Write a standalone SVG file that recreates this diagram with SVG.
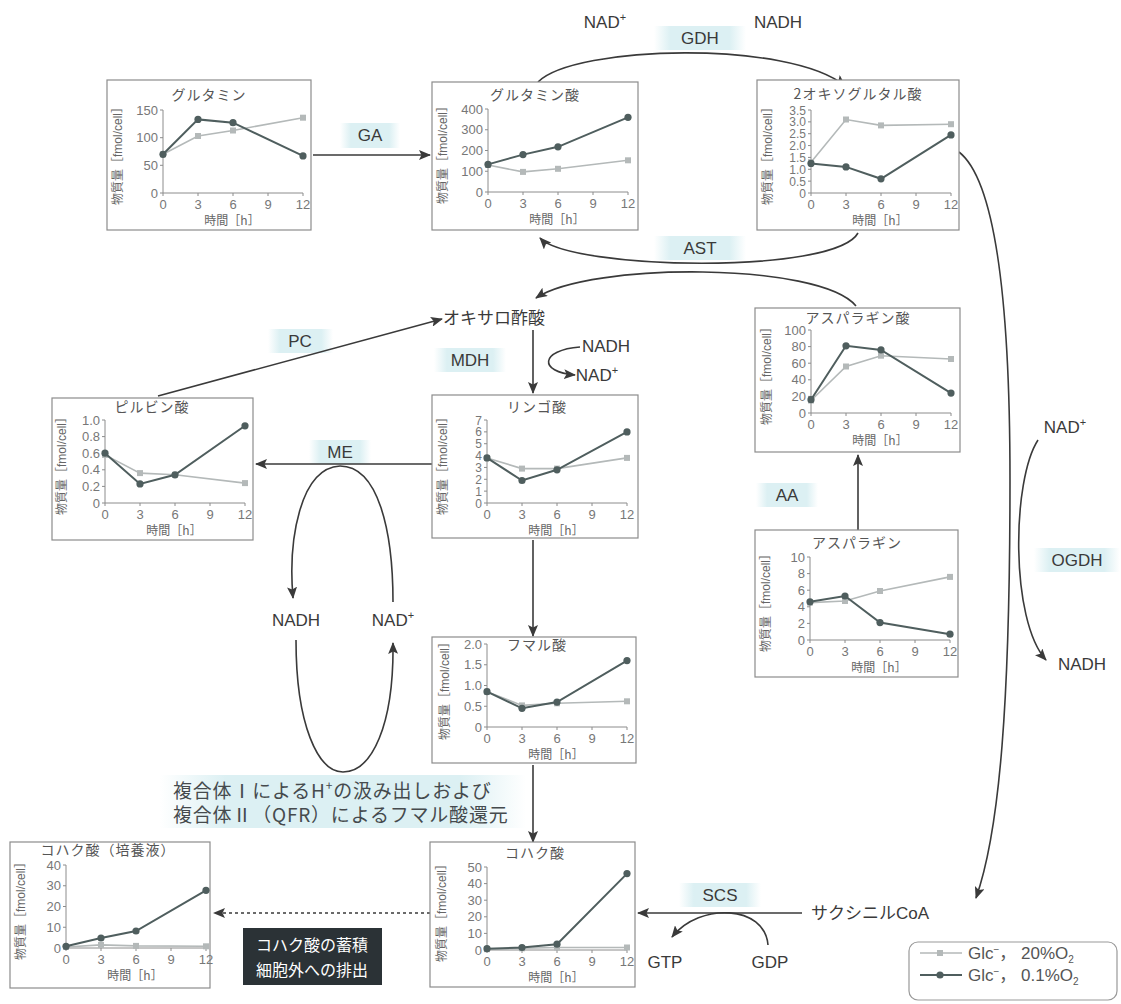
<svg xmlns="http://www.w3.org/2000/svg" xmlns:xlink="http://www.w3.org/1999/xlink" width="1121" height="1004" viewBox="0 0 1121 1004">
<defs>
<style>
.box{fill:#fff;stroke:#8c8c8c;stroke-width:1.2}
.ax{fill:none;stroke:#8c8c8c;stroke-width:1}
.tt{font-family:'Noto Sans CJK JP',sans-serif;font-size:14px;fill:#555;text-anchor:middle;letter-spacing:1px}
.yl{font-family:'Liberation Sans','Noto Sans CJK JP',sans-serif;font-size:12px;fill:#666;text-anchor:middle}
.yt{font-family:'Liberation Sans',sans-serif;font-size:13px;fill:#777;text-anchor:end}
.ys{font-size:12px}
.xt{font-family:'Liberation Sans',sans-serif;font-size:13px;fill:#777;text-anchor:middle}
.xl{font-family:'Noto Sans CJK JP',sans-serif;font-size:12px;fill:#666;text-anchor:middle}
.lt{fill:none;stroke:#b4b9b9;stroke-width:1.6}
.dk{fill:none;stroke:#4f5e5e;stroke-width:2}
.con{fill:none;stroke:#3a3a3a;stroke-width:1.6}
.lbl{font-family:'Liberation Sans','Noto Sans CJK JP',sans-serif;font-size:17px;fill:#3a3a3a;text-anchor:middle}
.hl{fill:url(#hlg)}
.wt{font-family:'Noto Sans CJK JP',sans-serif;font-size:16px;fill:#fff;text-anchor:middle}
.cx{font-family:'Noto Sans CJK JP','Liberation Sans',sans-serif;font-size:19px;fill:#454a4d;letter-spacing:0.8px}
.lg{font-family:'Liberation Sans','Noto Sans CJK JP',sans-serif;font-size:17px;fill:#555}
</style>
<linearGradient id="hlg" x1="0" x2="1" y1="0" y2="0">
<stop offset="0" stop-color="#dcf0f3" stop-opacity="0"/>
<stop offset="0.18" stop-color="#dcf0f3" stop-opacity="1"/>
<stop offset="0.82" stop-color="#dcf0f3" stop-opacity="1"/>
<stop offset="1" stop-color="#dcf0f3" stop-opacity="0"/>
</linearGradient>
<marker id="ah" viewBox="0 0 12 10" refX="11" refY="5" markerWidth="12" markerHeight="10" markerUnits="userSpaceOnUse" orient="auto">
<path d="M0,0 L12,5 L0,10 L2.5,5 z" fill="#3a3a3a"/>
</marker>
<rect id="s" x="-3" y="-3" width="6" height="6" fill="#b4b9b9"/>
<circle id="c" r="3.6" fill="#4f5e5e"/>
</defs>
<rect width="1121" height="1004" fill="#fff"/>

<g id="highlights">
<rect class="hl" x="340" y="123" width="60" height="25"/>
<rect class="hl" x="654" y="26" width="92" height="24"/>
<rect class="hl" x="654" y="236" width="92" height="24"/>
<rect class="hl" x="268" y="329" width="65" height="24"/>
<rect class="hl" x="434" y="348" width="72" height="24"/>
<rect class="hl" x="309" y="440" width="62" height="24"/>
<rect class="hl" x="439" y="514" width="62" height="24"/>
<rect class="hl" x="756" y="483" width="62" height="24"/>
<rect class="hl" x="1034" y="548" width="86" height="24"/>
<rect class="hl" x="679" y="883" width="82" height="24"/>
<rect class="hl" x="160" y="775" width="366" height="53"/>
</g>

<g id="connectors">
<path class="con" d="M313,155 H430" marker-end="url(#ah)"/>
<path class="con" d="M538,82 C575,45 790,40 845,86" marker-end="url(#ah)"/>
<path class="con" d="M858,233 C835,275 570,270 540,238" marker-end="url(#ah)"/>
<path class="con" d="M856,306 C820,262 590,262 536,298" marker-end="url(#ah)"/>
<path class="con" d="M158,396 L442,319" marker-end="url(#ah)"/>
<path class="con" d="M533,330 V393" marker-end="url(#ah)"/>
<path class="con" d="M580,347 C540,350 538,372 575,375" marker-end="url(#ah)"/>
<path class="con" d="M432,464 H256" marker-end="url(#ah)"/>
<path class="con" d="M340,466 C300,468 288,540 293,598" marker-end="url(#ah)"/>
<path class="con" d="M296,640 C296,725 318,772 343,772 C372,772 394,725 393,643" marker-end="url(#ah)"/>
<path class="con" d="M393,602 C393,530 378,466 340,466"/>
<path class="con" d="M533,540 V636" marker-end="url(#ah)"/>
<path class="con" d="M533,765 V842" marker-end="url(#ah)"/>
<path class="con" d="M858,535 V455" marker-end="url(#ah)"/>
<path class="con" d="M959,152 C995,180 1010,300 1010,480 C1010,700 1000,830 976,898" marker-end="url(#ah)"/>
<path class="con" d="M1038,440 C1012,480 1010,620 1046,660" marker-end="url(#ah)"/>
<path class="con" d="M802,913 H638" marker-end="url(#ah)"/>
<path class="con" d="M768,945 C765,905 700,902 672,937" marker-end="url(#ah)"/>
<path class="con" d="M430,913 H214" stroke-dasharray="3,3" marker-end="url(#ah)"/>
</g>

<g id="labels">
<text class="lbl" x="605" y="28">NAD<tspan dy="-7" font-size="11">+</tspan></text>
<text class="lbl" x="700" y="44">GDH</text>
<text class="lbl" x="778" y="28">NADH</text>
<text class="lbl" x="370" y="141">GA</text>
<text class="lbl" x="700" y="254">AST</text>
<text class="lbl" x="494" y="324">オキサロ酢酸</text>
<text class="lbl" x="300" y="347">PC</text>
<text class="lbl" x="470" y="366">MDH</text>
<text class="lbl" x="606" y="352">NADH</text>
<text class="lbl" x="597" y="381">NAD<tspan dy="-7" font-size="11">+</tspan></text>
<text class="lbl" x="340" y="458">ME</text>
<text class="lbl" x="470" y="532">FR</text>
<text class="lbl" x="787" y="501">AA</text>
<text class="lbl" x="1065" y="433">NAD<tspan dy="-7" font-size="11">+</tspan></text>
<text class="lbl" x="1077" y="566">OGDH</text>
<text class="lbl" x="1082" y="670">NADH</text>
<text class="lbl" x="296" y="626">NADH</text>
<text class="lbl" x="393" y="626">NAD<tspan dy="-7" font-size="11">+</tspan></text>
<text class="lbl" x="720" y="901">SCS</text>
<text class="lbl" x="870" y="919" font-size="18">サクシニルCoA</text>
<text class="lbl" x="665" y="968">GTP</text>
<text class="lbl" x="770" y="968">GDP</text>
<text class="cx" x="173" y="798">複合体Ⅰによる<tspan>H</tspan><tspan dy="-8" font-size="12">+</tspan><tspan dy="8">の汲み出しおよび</tspan></text>
<text class="cx" x="173" y="822">複合体Ⅱ（QFR）によるフマル酸還元</text>
</g>

<g id="note">
<rect x="243" y="928" width="139" height="57" fill="#2b3236"/>
<text class="wt" x="312" y="951">コハク酸の蓄積</text>
<text class="wt" x="312" y="976">細胞外への排出</text>
</g>

<g id="gln" transform="translate(163,193)">
<rect class="box" x="-56" y="-113" width="204" height="150"/>
<text class="tt" x="46" y="-93">グルタミン</text>
<text class="yl" transform="translate(-45,-40) rotate(-90)" dy="4">物質量［fmol/cell］</text>
<path class="ax" d="M0,-83V0H140 M-3,0H0 M-3,-27.7H0 M-3,-55.3H0 M-3,-83H0 M0,0v3 M35,0v3 M70,0v3 M105,0v3 M140,0v3"/>
<text class="yt" x="-5" y="4.5">0</text><text class="yt" x="-5" y="-23.2">50</text><text class="yt" x="-5" y="-50.8">100</text><text class="yt" x="-5" y="-78.5">150</text>
<text class="xt" x="0" y="16">0</text><text class="xt" x="35" y="16">3</text><text class="xt" x="70" y="16">6</text><text class="xt" x="105" y="16">9</text><text class="xt" x="140" y="16">12</text>
<text class="xl" x="69" y="32">時間［h］</text>
<polyline class="lt" points="0,-38.7 35,-57 70,-62.5 140,-75.3"/>
<use href="#s" x="0" y="-38.7"/><use href="#s" x="35" y="-57"/><use href="#s" x="70" y="-62.5"/><use href="#s" x="140" y="-75.3"/>
<polyline class="dk" points="0,-38.7 35,-73.6 70,-70.3 140,-37.1"/>
<use href="#c" x="0" y="-38.7"/><use href="#c" x="35" y="-73.6"/><use href="#c" x="70" y="-70.3"/><use href="#c" x="140" y="-37.1"/>
</g>

<g id="glu" transform="translate(488,192)">
<rect class="box" x="-56" y="-110" width="206" height="148"/>
<text class="tt" x="47" y="-92">グルタミン酸</text>
<text class="yl" transform="translate(-45,-40) rotate(-90)" dy="4">物質量［fmol/cell］</text>
<path class="ax" d="M0,-83V0H140 M-3,0H0 M-3,-20.75H0 M-3,-41.5H0 M-3,-62.25H0 M-3,-83H0 M0,0v3 M35,0v3 M70,0v3 M105,0v3 M140,0v3"/>
<text class="yt" x="-5" y="4.5">0</text><text class="yt" x="-5" y="-16.3">100</text><text class="yt" x="-5" y="-37">200</text><text class="yt" x="-5" y="-57.8">300</text><text class="yt" x="-5" y="-78.5">400</text>
<text class="xt" x="0" y="16">0</text><text class="xt" x="35" y="16">3</text><text class="xt" x="70" y="16">6</text><text class="xt" x="105" y="16">9</text><text class="xt" x="140" y="16">12</text>
<text class="xl" x="69" y="32">時間［h］</text>
<polyline class="lt" points="0,-27 35,-20.1 70,-23.2 140,-31.7"/>
<use href="#s" x="0" y="-27"/><use href="#s" x="35" y="-20.1"/><use href="#s" x="70" y="-23.2"/><use href="#s" x="140" y="-31.7"/>
<polyline class="dk" points="0,-27.6 35,-37.4 70,-45.2 140,-74.7"/>
<use href="#c" x="0" y="-27.6"/><use href="#c" x="35" y="-37.4"/><use href="#c" x="70" y="-45.2"/><use href="#c" x="140" y="-74.7"/>
</g>

<g id="oxo" transform="translate(811,193)">
<rect class="box" x="-54" y="-113" width="202" height="150"/>
<text class="tt" x="47" y="-94">2オキソグルタル酸</text>
<text class="yl" transform="translate(-43,-40) rotate(-90)" dy="4">物質量［fmol/cell］</text>
<path class="ax" d="M0,-83V0H140 M-3,0H0 M-3,-11.86H0 M-3,-23.71H0 M-3,-35.57H0 M-3,-47.43H0 M-3,-59.29H0 M-3,-71.14H0 M-3,-83H0 M0,0v3 M35,0v3 M70,0v3 M105,0v3 M140,0v3"/>
<text class="yt ys" x="-5" y="4.5">0</text><text class="yt ys" x="-5" y="-7.4">0.5</text><text class="yt ys" x="-5" y="-19.2">1.0</text><text class="yt ys" x="-5" y="-31.1">1.5</text><text class="yt ys" x="-5" y="-42.9">2.0</text><text class="yt ys" x="-5" y="-54.8">2.5</text><text class="yt ys" x="-5" y="-66.6">3.0</text><text class="yt ys" x="-5" y="-78.5">3.5</text>
<text class="xt" x="0" y="16">0</text><text class="xt" x="35" y="16">3</text><text class="xt" x="70" y="16">6</text><text class="xt" x="105" y="16">9</text><text class="xt" x="140" y="16">12</text>
<text class="xl" x="69" y="32">時間［h］</text>
<polyline class="lt" points="0,-30.8 35,-73.5 70,-67.6 140,-68.8"/>
<use href="#s" x="0" y="-30.8"/><use href="#s" x="35" y="-73.5"/><use href="#s" x="70" y="-67.6"/><use href="#s" x="140" y="-68.8"/>
<polyline class="dk" points="0,-29.6 35,-26.1 70,-14.2 140,-58.1"/>
<use href="#c" x="0" y="-29.6"/><use href="#c" x="35" y="-26.1"/><use href="#c" x="70" y="-14.2"/><use href="#c" x="140" y="-58.1"/>
</g>

<g id="pyr" transform="translate(105,503)">
<rect class="box" x="-53" y="-105" width="201" height="142"/>
<text class="tt" x="47" y="-91">ピルビン酸</text>
<text class="yl" transform="translate(-43,-40) rotate(-90)" dy="4">物質量［fmol/cell］</text>
<path class="ax" d="M0,-83V0H140 M-3,0H0 M-3,-16.6H0 M-3,-33.2H0 M-3,-49.8H0 M-3,-66.4H0 M-3,-83H0 M0,0v3 M35,0v3 M70,0v3 M105,0v3 M140,0v3"/>
<text class="yt" x="-5" y="4.5">0</text><text class="yt" x="-5" y="-12.1">0.2</text><text class="yt" x="-5" y="-28.7">0.4</text><text class="yt" x="-5" y="-45.3">0.6</text><text class="yt" x="-5" y="-61.9">0.8</text><text class="yt" x="-5" y="-78.5">1.0</text>
<text class="xt" x="0" y="16">0</text><text class="xt" x="35" y="16">3</text><text class="xt" x="70" y="16">6</text><text class="xt" x="105" y="16">9</text><text class="xt" x="140" y="16">12</text>
<text class="xl" x="69" y="32">時間［h］</text>
<polyline class="lt" points="0,-48.1 35,-29.9 70,-28.2 140,-19.9"/>
<use href="#s" x="0" y="-48.1"/><use href="#s" x="35" y="-29.9"/><use href="#s" x="70" y="-28.2"/><use href="#s" x="140" y="-19.9"/>
<polyline class="dk" points="0,-49.8 35,-19.1 70,-28.2 140,-77.2"/>
<use href="#c" x="0" y="-49.8"/><use href="#c" x="35" y="-19.1"/><use href="#c" x="70" y="-28.2"/><use href="#c" x="140" y="-77.2"/>
</g>

<g id="mal" transform="translate(487,503)">
<rect class="box" x="-55" y="-108" width="206" height="143"/>
<text class="tt" x="50" y="-91">リンゴ酸</text>
<text class="yl" transform="translate(-44,-40) rotate(-90)" dy="4">物質量［fmol/cell］</text>
<path class="ax" d="M0,-83V0H140 M-3,0H0 M-3,-11.86H0 M-3,-23.71H0 M-3,-35.57H0 M-3,-47.43H0 M-3,-59.29H0 M-3,-71.14H0 M-3,-83H0 M0,0v3 M35,0v3 M70,0v3 M105,0v3 M140,0v3"/>
<text class="yt ys" x="-5" y="4.5">0</text><text class="yt ys" x="-5" y="-7.4">1</text><text class="yt ys" x="-5" y="-19.2">2</text><text class="yt ys" x="-5" y="-31.1">3</text><text class="yt ys" x="-5" y="-42.9">4</text><text class="yt ys" x="-5" y="-54.8">5</text><text class="yt ys" x="-5" y="-66.6">6</text><text class="yt ys" x="-5" y="-78.5">7</text>
<text class="xt" x="0" y="16">0</text><text class="xt" x="35" y="16">3</text><text class="xt" x="70" y="16">6</text><text class="xt" x="105" y="16">9</text><text class="xt" x="140" y="16">12</text>
<text class="xl" x="69" y="32">時間［h］</text>
<polyline class="lt" points="0,-45.1 35,-34.4 70,-34.4 140,-45.1"/>
<use href="#s" x="0" y="-45.1"/><use href="#s" x="35" y="-34.4"/><use href="#s" x="70" y="-34.4"/><use href="#s" x="140" y="-45.1"/>
<polyline class="dk" points="0,-45.1 35,-22.5 70,-33.2 140,-71.1"/>
<use href="#c" x="0" y="-45.1"/><use href="#c" x="35" y="-22.5"/><use href="#c" x="70" y="-33.2"/><use href="#c" x="140" y="-71.1"/>
</g>

<g id="asp" transform="translate(811,413)">
<rect class="box" x="-56" y="-105" width="205" height="144"/>
<text class="tt" x="47" y="-90">アスパラギン酸</text>
<text class="yl" transform="translate(-44,-40) rotate(-90)" dy="4">物質量［fmol/cell］</text>
<path class="ax" d="M0,-83V0H140 M-3,0H0 M-3,-16.6H0 M-3,-33.2H0 M-3,-49.8H0 M-3,-66.4H0 M-3,-83H0 M0,0v3 M35,0v3 M70,0v3 M105,0v3 M140,0v3"/>
<text class="yt" x="-5" y="4.5">0</text><text class="yt" x="-5" y="-12.1">20</text><text class="yt" x="-5" y="-28.7">40</text><text class="yt" x="-5" y="-45.3">60</text><text class="yt" x="-5" y="-61.9">80</text><text class="yt" x="-5" y="-78.5">100</text>
<text class="xt" x="0" y="16">0</text><text class="xt" x="35" y="16">3</text><text class="xt" x="70" y="16">6</text><text class="xt" x="105" y="16">9</text><text class="xt" x="140" y="16">12</text>
<text class="xl" x="69" y="32">時間［h］</text>
<polyline class="lt" points="0,-12.5 35,-46.5 70,-57.3 140,-54"/>
<use href="#s" x="0" y="-12.5"/><use href="#s" x="35" y="-46.5"/><use href="#s" x="70" y="-57.3"/><use href="#s" x="140" y="-54"/>
<polyline class="dk" points="0,-13.3 35,-67.2 70,-63.1 140,-19.9"/>
<use href="#c" x="0" y="-13.3"/><use href="#c" x="35" y="-67.2"/><use href="#c" x="70" y="-63.1"/><use href="#c" x="140" y="-19.9"/>
</g>

<g id="asn" transform="translate(810,640)">
<rect class="box" x="-55" y="-110" width="203" height="147"/>
<text class="tt" x="47" y="-92">アスパラギン</text>
<text class="yl" transform="translate(-44,-40) rotate(-90)" dy="4">物質量［fmol/cell］</text>
<path class="ax" d="M0,-83V0H140 M-3,0H0 M-3,-16.6H0 M-3,-33.2H0 M-3,-49.8H0 M-3,-66.4H0 M-3,-83H0 M0,0v3 M35,0v3 M70,0v3 M105,0v3 M140,0v3"/>
<text class="yt" x="-5" y="4.5">0</text><text class="yt" x="-5" y="-12.1">2</text><text class="yt" x="-5" y="-28.7">4</text><text class="yt" x="-5" y="-45.3">6</text><text class="yt" x="-5" y="-61.9">8</text><text class="yt" x="-5" y="-78.5">10</text>
<text class="xt" x="0" y="16">0</text><text class="xt" x="35" y="16">3</text><text class="xt" x="70" y="16">6</text><text class="xt" x="105" y="16">9</text><text class="xt" x="140" y="16">12</text>
<text class="xl" x="69" y="32">時間［h］</text>
<polyline class="lt" points="0,-37.4 35,-39 70,-49 140,-63.1"/>
<use href="#s" x="0" y="-37.4"/><use href="#s" x="35" y="-39"/><use href="#s" x="70" y="-49"/><use href="#s" x="140" y="-63.1"/>
<polyline class="dk" points="0,-38.2 35,-44 70,-17.4 140,-5.8"/>
<use href="#c" x="0" y="-38.2"/><use href="#c" x="35" y="-44"/><use href="#c" x="70" y="-17.4"/><use href="#c" x="140" y="-5.8"/>
</g>

<g id="fum" transform="translate(487,727)">
<rect class="box" x="-55" y="-90" width="204" height="126"/>
<text class="tt" x="50" y="-77">フマル酸</text>
<text class="yl" transform="translate(-42,-39) rotate(-90)" dy="4">物質量［fmol/cell］</text>
<path class="ax" d="M0,-83V0H140 M-3,0H0 M-3,-20.75H0 M-3,-41.5H0 M-3,-62.25H0 M-3,-83H0 M0,0v3 M35,0v3 M70,0v3 M105,0v3 M140,0v3"/>
<text class="yt" x="-5" y="4.5">0</text><text class="yt" x="-5" y="-16.3">0.5</text><text class="yt" x="-5" y="-37">1.0</text><text class="yt" x="-5" y="-57.8">1.5</text><text class="yt" x="-5" y="-78.5">2.0</text>
<text class="xt" x="0" y="16">0</text><text class="xt" x="35" y="16">3</text><text class="xt" x="70" y="16">6</text><text class="xt" x="105" y="16">9</text><text class="xt" x="140" y="16">12</text>
<text class="xl" x="69" y="32">時間［h］</text>
<polyline class="lt" points="0,-35.3 35,-21.6 70,-23.7 140,-25.7"/>
<use href="#s" x="0" y="-35.3"/><use href="#s" x="35" y="-21.6"/><use href="#s" x="70" y="-23.7"/><use href="#s" x="140" y="-25.7"/>
<polyline class="dk" points="0,-35.3 35,-18.7 70,-24.9 140,-66.4"/>
<use href="#c" x="0" y="-35.3"/><use href="#c" x="35" y="-18.7"/><use href="#c" x="70" y="-24.9"/><use href="#c" x="140" y="-66.4"/>
</g>

<g id="sucmed" transform="translate(66,948)">
<rect class="box" x="-56" y="-106" width="200" height="146"/>
<text class="tt" x="42" y="-93">コハク酸（培養液）</text>
<text class="yl" transform="translate(-45,-40) rotate(-90)" dy="4">物質量［fmol/cell］</text>
<path class="ax" d="M0,-83V0H140 M-3,0H0 M-3,-20.75H0 M-3,-41.5H0 M-3,-62.25H0 M-3,-83H0 M0,0v3 M35,0v3 M70,0v3 M105,0v3 M140,0v3"/>
<text class="yt" x="-5" y="4.5">0</text><text class="yt" x="-5" y="-16.3">10</text><text class="yt" x="-5" y="-37">20</text><text class="yt" x="-5" y="-57.8">30</text><text class="yt" x="-5" y="-78.5">40</text>
<text class="xt" x="0" y="16">0</text><text class="xt" x="35" y="16">3</text><text class="xt" x="70" y="16">6</text><text class="xt" x="105" y="16">9</text><text class="xt" x="140" y="16">12</text>
<text class="xl" x="69" y="32">時間［h］</text>
<polyline class="lt" points="0,-1 35,-3.1 70,-2.1 140,-1.7"/>
<use href="#s" x="0" y="-1"/><use href="#s" x="35" y="-3.1"/><use href="#s" x="70" y="-2.1"/><use href="#s" x="140" y="-1.7"/>
<polyline class="dk" points="0,-1.7 35,-10 70,-17 140,-57.7"/>
<use href="#c" x="0" y="-1.7"/><use href="#c" x="35" y="-10"/><use href="#c" x="70" y="-17"/><use href="#c" x="140" y="-57.7"/>
</g>

<g id="suc" transform="translate(487,950)">
<rect class="box" x="-57" y="-108" width="205" height="145"/>
<text class="tt" x="48" y="-92">コハク酸</text>
<text class="yl" transform="translate(-45,-40) rotate(-90)" dy="4">物質量［fmol/cell］</text>
<path class="ax" d="M0,-83V0H140 M-3,0H0 M-3,-16.6H0 M-3,-33.2H0 M-3,-49.8H0 M-3,-66.4H0 M-3,-83H0 M0,0v3 M35,0v3 M70,0v3 M105,0v3 M140,0v3"/>
<text class="yt" x="-5" y="4.5">0</text><text class="yt" x="-5" y="-12.1">10</text><text class="yt" x="-5" y="-28.7">20</text><text class="yt" x="-5" y="-45.3">30</text><text class="yt" x="-5" y="-61.9">40</text><text class="yt" x="-5" y="-78.5">50</text>
<text class="xt" x="0" y="16">0</text><text class="xt" x="35" y="16">3</text><text class="xt" x="70" y="16">6</text><text class="xt" x="105" y="16">9</text><text class="xt" x="140" y="16">12</text>
<text class="xl" x="69" y="32">時間［h］</text>
<polyline class="lt" points="0,-0.8 35,-1.7 70,-2.5 140,-2.5"/>
<use href="#s" x="0" y="-0.8"/><use href="#s" x="35" y="-1.7"/><use href="#s" x="70" y="-2.5"/><use href="#s" x="140" y="-2.5"/>
<polyline class="dk" points="0,-1.3 35,-2.5 70,-5.8 140,-76.4"/>
<use href="#c" x="0" y="-1.3"/><use href="#c" x="35" y="-2.5"/><use href="#c" x="70" y="-5.8"/><use href="#c" x="140" y="-76.4"/>
</g>

<g id="legend">
<rect x="909" y="942" width="208" height="58" rx="9" fill="#fff" stroke="#999" stroke-width="1.2"/>
<path class="lt" d="M920,953 H962"/>
<use href="#s" x="940" y="953"/>
<text class="lg" x="968" y="959">Glc<tspan dy="-6" font-size="10">−</tspan><tspan dy="6">， 20%O</tspan><tspan dy="4" font-size="10">2</tspan></text>
<path class="dk" d="M920,975 H962"/>
<use href="#c" x="940" y="975"/>
<text class="lg" x="968" y="981">Glc<tspan dy="-6" font-size="10">−</tspan><tspan dy="6">， 0.1%O</tspan><tspan dy="4" font-size="10">2</tspan></text>
</g>
</svg>
